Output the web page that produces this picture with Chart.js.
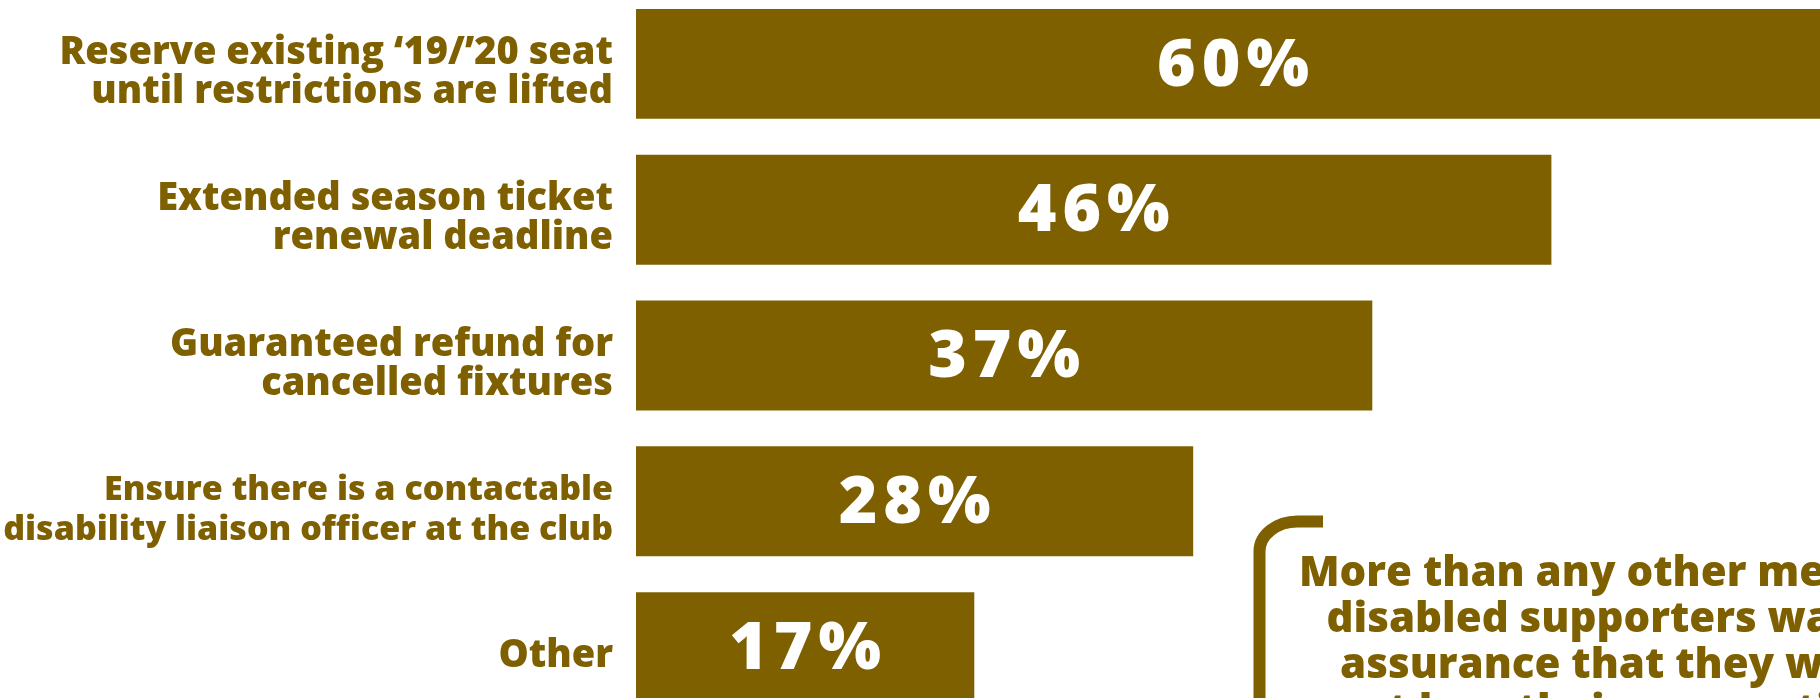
<!DOCTYPE html>
<html>
<head>
<meta charset="utf-8">
<script src="https://cdn.jsdelivr.net/npm/chart.js@4.4.1/dist/chart.umd.min.js"></script>
<style>
  html, body { margin: 0; padding: 0; background: #fff; overflow: hidden; }
  #wrap { position: relative; width: 1820px; height: 698px; overflow: hidden; }
  /* the chart is a crop of a bigger graphic, so the canvas runs past the window */
  #box { position: absolute; left: 0; top: -20px; width: 2029px; height: 760px; }
</style>
</head>
<body>
<div id="wrap"><div id="box"><canvas id="myChart"></canvas></div></div>
<script>
const categories = [
  ['Reserve existing \u201819/\u201920 seat', 'until restrictions are lifted'],
  ['Extended season ticket', 'renewal deadline'],
  ['Guaranteed refund for', 'cancelled fixtures'],
  ['Ensure there is a contactable', 'disability liaison officer at the club'],
  ['Other']
];
const shares = [60, 46, 37, 28, 17];
const noteLines = [
  'More than any other measure,',
  'disabled supporters wanted',
  'assurance that they would',
  'not lose their season ticket'
];

const gold = '#7F6000';
const font = '"Open Sans"';

// white % figures in the middle of each bar
const barLabels = {
  id: 'barLabels',
  afterDatasetsDraw(chart) {
    const ctx = chart.ctx;
    const meta = chart.getDatasetMeta(0);
    ctx.save();
    ctx.fillStyle = '#fff';
    ctx.font = '800 66px ' + font;
    ctx.letterSpacing = '6px';
    ctx.textAlign = 'center';
    ctx.textBaseline = 'middle';
    meta.data.forEach((bar, i) => {
      ctx.fillText(shares[i] + '%', (bar.base + bar.x) / 2 + 3, bar.y + 3);
    });
    ctx.restore();
  }
};

// callout bracket + text at bottom right
const callout = {
  id: 'callout',
  afterDraw(chart) {
    const ctx = chart.ctx;
    const x0 = 1259.5, y0 = 541.5, rx = 38, ry = 30;
    ctx.save();
    ctx.strokeStyle = gold;
    ctx.lineWidth = 12;
    ctx.lineCap = 'butt';
    ctx.beginPath();
    ctx.moveTo(x0, chart.height + 10);
    ctx.lineTo(x0, y0 + ry);
    ctx.ellipse(x0 + rx, y0 + ry, rx, ry, 0, Math.PI, 1.5 * Math.PI);
    ctx.lineTo(1323, y0);
    ctx.stroke();

    ctx.fillStyle = gold;
    ctx.font = '800 42px ' + font;
    ctx.textAlign = 'center';
    ctx.textBaseline = 'alphabetic';
    const cx = 1299 + ctx.measureText(noteLines[0]).width / 2;
    noteLines.forEach((t, i) => ctx.fillText(t, cx, 606 + i * 46));
    ctx.restore();
  }
};

const myChart = new Chart('myChart', {
  type: 'bar',
  data: {
    labels: categories,
    datasets: [{
      data: shares,
      backgroundColor: gold,
      borderWidth: 0,
      categoryPercentage: 1,
      barPercentage: 0.754
    }]
  },
  options: {
    indexAxis: 'y',
    responsive: true,
    maintainAspectRatio: false,
    animation: false,
    layout: { padding: { top: 11, bottom: 20, left: 0, right: 0 } },
    plugins: { legend: { display: false }, tooltip: { enabled: false } },
    scales: {
      x: { type: 'linear', min: 0, max: 70, display: false },
      y: {
        grid: { display: false, drawTicks: false },
        border: { display: false },
        ticks: {
          color: gold,
          // the long liaison-officer label runs much wider in Open Sans, so it is set smaller to stay on the page
          font: (c) => ({ family: font, weight: '800', size: c.index === 3 ? 34 : 38, lineHeight: c.index === 3 ? 1.15 : 1.03 }),
          padding: 23,
          labelOffset: 9
        },
        afterFit(scale) {
          scale.width = 636;
          scale.paddingTop = 0;
          scale.paddingBottom = 0;
        }
      }
    }
  },
  plugins: [barLabels, callout]
});
</script>
</body>
</html>
